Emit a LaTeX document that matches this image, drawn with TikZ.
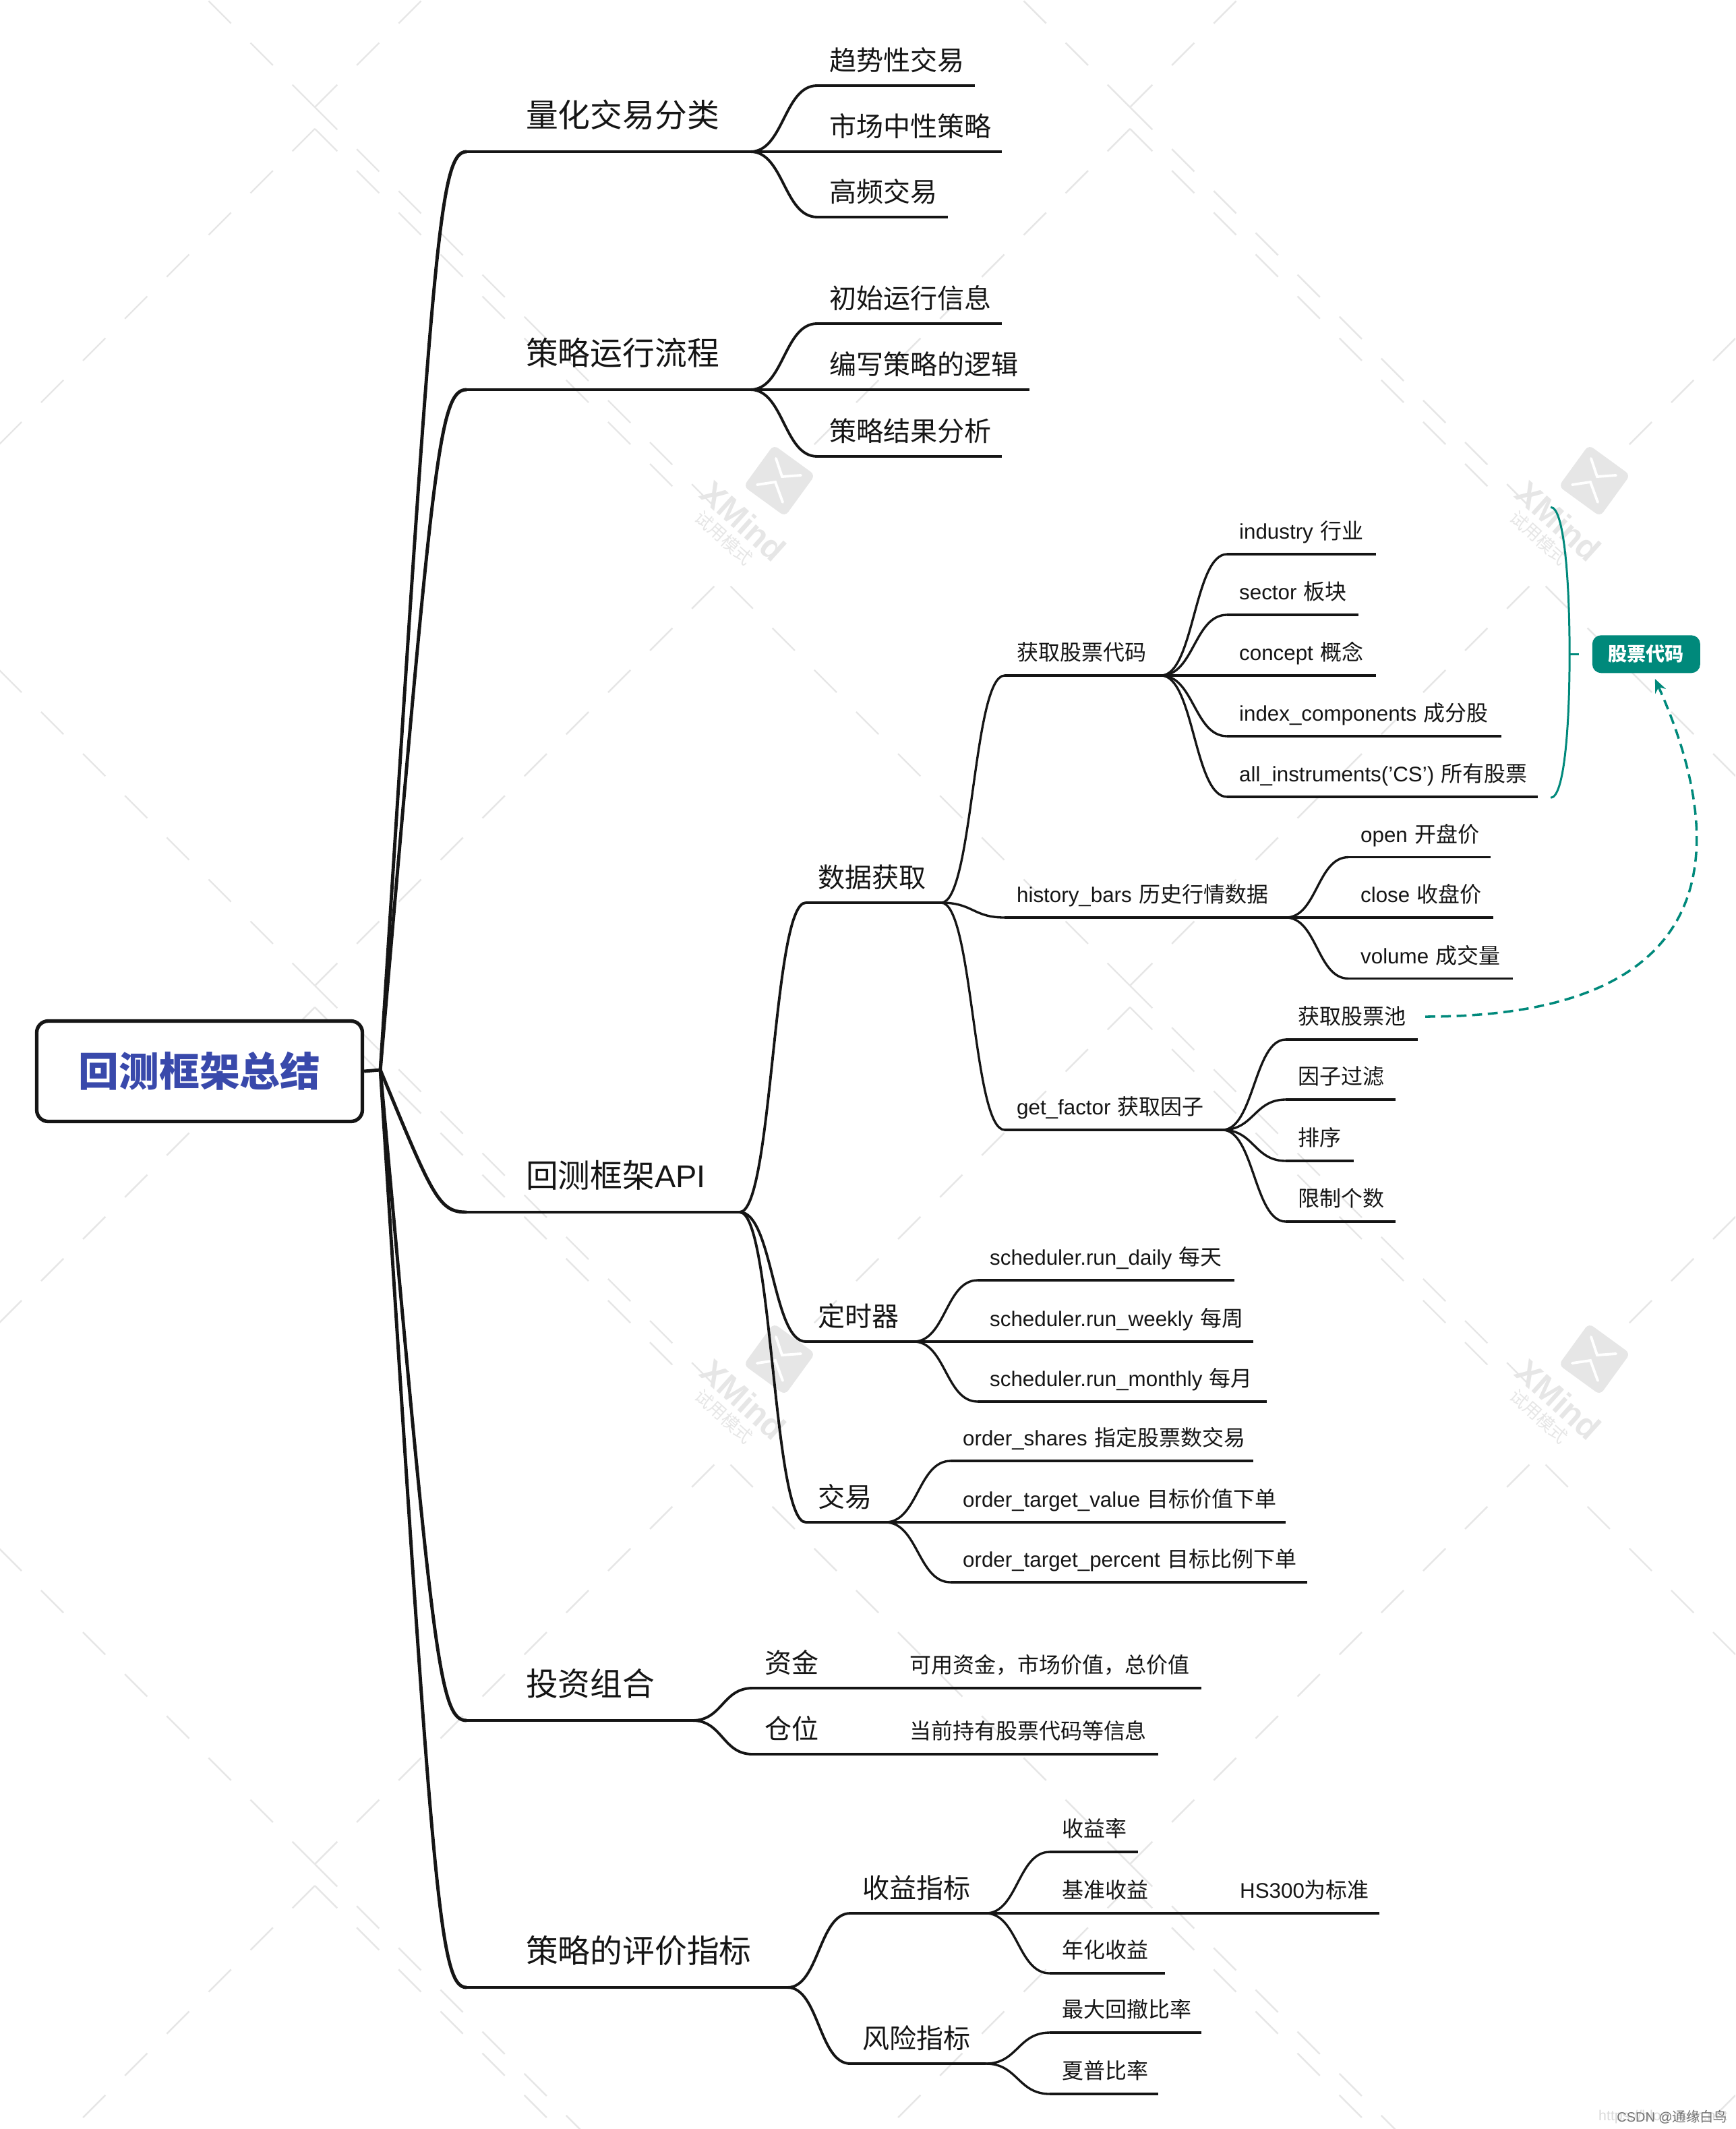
\documentclass[tikz,border=0pt]{standalone}
\usepackage{xcolor}
\usepackage{fontspec}
\setmainfont[Scale=.98]{Liberation Sans}
\newfontfamily\cjk{Noto Sans CJK SC}
\newcommand{\zh}[1]{{\cjk #1}}
\usepackage{tikz}
\usetikzlibrary{arrows.meta,calc,positioning}
\definecolor{inkline}{HTML}{151515}
\definecolor{rootblue}{HTML}{3949AB}
\definecolor{tealmark}{HTML}{00897B}
\definecolor{faintmark}{HTML}{E6E6E6}
\tikzset{>={Stealth[length=.2cm,width=.17cm]}}
\tikzset{main node/.style={draw=inkline,line width=1.5pt,rounded corners=.17cm,fill=white,minimum width=4.83cm,minimum height=1.49cm,inner sep=0pt,text=rootblue,font=\fontsize{17}{20}\selectfont\bfseries},
    topic/.style={inner ysep=0pt,outer sep=0pt,align=left,text=inkline,append after command={(\tikzlastnode.south west) edge[draw=inkline,line width=#1,-] (\tikzlastnode.south east)}},
    level one/.style={topic=1.4pt,minimum height=1.08cm,inner xsep=.88cm,text height=1.15em,text depth=.14em,font=\fontsize{13.6}{16}\selectfont},
    level two/.style={topic=1.1pt,minimum height=.8cm,inner xsep=.18cm,text height=1.135em,text depth=.14em,font=\fontsize{11.4}{14}\selectfont},
    level three/.style={topic=.95pt,minimum height=.68cm,inner xsep=.18cm,text height=.86em,text depth=.19em,font=\fontsize{9.1}{11}\selectfont},
    tag node/.style={fill=tealmark,rounded corners=.13cm,minimum width=1.6cm,minimum height=.56cm,inner sep=0pt,text=white,font=\fontsize{8}{10}\selectfont\bfseries},
    branch/.style={to path={.. controls ($(\tikztostart)!.5!(\tikztostart -| \tikztotarget)$) and ($(\tikztotarget)!.5!(\tikztotarget -| \tikztostart)$) .. (\tikztotarget)}},
    trunk/.style={to path={.. controls ($(\tikztostart)!.9!($(\tikztotarget)!.32!(\tikztotarget -| \tikztostart)$)$) and ($(\tikztotarget)!.32!(\tikztotarget -| \tikztostart)$) .. (\tikztotarget)}},
    faint line/.style={draw=faintmark,line width=.7pt,dash pattern=on 13.4pt off 11.6pt},
            }

\begin{document}
\begin{tikzpicture}[x=1cm,y=-1cm]

    \useasboundingbox (0,0) rectangle (25.74,31.58);

    % watermark
    \begin{scope}
    \clip (0,0) rectangle (25.74,31.58);
    \foreach \i in {0,1,2} \foreach \j in {0,1,2} {
        \begin{scope}[shift={(12.09*\i,13.03*\j)}]
        \draw[faint line] (4.67,1.59) -- +(6.2,6.2);
        \draw[faint line] (4.67,1.91) -- +(5.58,5.58);
        \draw[faint line] (4.67,1.59) -- +(-6.2,-6.2);
        \draw[faint line] (4.67,1.59) -- +(6.2,-6.2);
        \draw[faint line] (4.67,1.91) -- +(-4.96,4.96);
        \end{scope}
    }
    \foreach \i in {0,1} \foreach \j in {0,1} {
        \begin{scope}[shift={(12.09*\i,13.03*\j)}]
        \node[fill=faintmark,rounded corners=.08cm,minimum size=.76cm,inner sep=0pt,rotate=-36] (logo\i\j) at (11.56,7.13) {};
        \draw[white,line width=1.1pt,line cap=round] (11.51,6.80) -- (11.60,7.07) -- (11.88,7.05);
        \draw[white,line width=1.1pt,line cap=round] (11.23,7.19) -- (11.50,7.15) -- (11.61,7.45);
        \node[text=faintmark,rotate=-42,font=\fontsize{14.4}{18}\selectfont\bfseries] (mark\i\j) at (11.03,7.73) {XMind};
        \node[text=faintmark,rotate=-42,font=\fontsize{7.4}{9}\selectfont] (trial\i\j) at (10.74,7.98) {\zh{试用模式}};
        \end{scope}
    }
    \end{scope}

    \node[main node] (root) at (2.96,15.89) {\zh{回测框架总结}};
    \coordinate[above right = .02cm and .24cm of root.east] (fork);

    \node[level one,text width=2.45cm] (kinds) [above right = 13.62cm and 1.28cm of fork] {\zh{量化交易分类}};
    \node[level one,text width=2.45cm] (flow) [above right = 10.09cm and 1.28cm of fork] {\zh{策略运行流程}};
    \node[level one,text width=2.29cm] (api) [below right = 1.03cm and 1.28cm of fork] {\zh{回测框架}API};
    \node[level one,text width=1.59cm] (folio) [below right = 8.57cm and 1.28cm of fork] {\zh{投资组合}};
    \node[level one,text width=3cm] (metrics) [below right = 12.53cm and 1.28cm of fork] {\zh{策略的评价指标}};

    \node[level two,text width=1.98cm] (trend) [above right = .98cm and .99cm of kinds.south east] {\zh{趋势性交易}};
    \node[level two,text width=2.38cm] (neutral) [above right = 0cm and .99cm of kinds.south east] {\zh{市场中性策略}};
    \node[level two,text width=1.58cm] (hft) [below right = .17cm and .99cm of kinds.south east] {\zh{高频交易}};

    \node[level two,text width=2.38cm] (init) [above right = .98cm and .99cm of flow.south east] {\zh{初始运行信息}};
    \node[level two,text width=2.79cm] (logic) [above right = 0cm and .99cm of flow.south east] {\zh{编写策略的逻辑}};
    \node[level two,text width=2.38cm] (result) [below right = .19cm and .99cm of flow.south east] {\zh{策略结果分析}};

    \node[level two,text width=1.65cm] (fetch) [above right = 4.59cm and .98cm of api.south east] {\zh{数据获取}};
    \node[level two,text width=1.24cm] (timer) [below right = 1.12cm and .98cm of api.south east] {\zh{定时器}};
    \node[level two,text width=.82cm] (trade) [below right = 3.8cm and .98cm of api.south east] {\zh{交易}};

    \node[level three,text width=1.96cm] (codes) [above right = 3.37cm and .94cm of fetch.south east] {\zh{获取股票代码}};
    \node[level three,text width=3.81cm] (bars) [above right = -.22cm and .94cm of fetch.south east] {history\_bars~\zh{历史行情数据}};
    \node[level three,text width=2.87cm] (factor) [below right = 2.69cm and .94cm of fetch.south east] {get\_factor~\zh{获取因子}};

    \node[level three,text width=1.85cm] (industry) [above right = 1.8cm and .98cm of codes.south east] {industry~\zh{行业}};
    \node[level three,text width=1.59cm] (sector) [above right = .9cm and .98cm of codes.south east] {sector~\zh{板块}};
    \node[level three,text width=1.85cm] (concept) [above right = 0cm and .98cm of codes.south east] {concept~\zh{概念}};
    \node[level three,text width=3.71cm] (index) [below right = .22cm and .98cm of codes.south east] {index\_components~\zh{成分股}};
    \node[level three,text width=4.25cm] (allcs) [below right = 1.12cm and .98cm of codes.south east] {all\_instruments('CS')~\zh{所有股票}};

    \node[level three,text width=1.75cm] (open) [above right = .895cm and .93cm of bars.south east] {open~\zh{开盘价}};
    \node[level three,text width=1.79cm] (close) [above right = 0cm and .93cm of bars.south east] {close~\zh{收盘价}};
    \node[level three,text width=2.08cm] (volume) [below right = .225cm and .93cm of bars.south east] {volume~\zh{成交量}};

    \node[level three,text width=1.6cm] (pool) [above right = 1.34cm and .94cm of factor.south east] {\zh{获取股票池}};
    \node[level three,text width=1.27cm] (filter) [above right = .45cm and .94cm of factor.south east] {\zh{因子过滤}};
    \node[level three,text width=.65cm] (rank) [above right = -.46cm and .94cm of factor.south east] {\zh{排序}};
    \node[level three,text width=1.27cm] (limit) [below right = .68cm and .94cm of factor.south east] {\zh{限制个数}};

    \node[level three,text width=3.45cm] (daily) [above right = .91cm and .95cm of timer.south east] {scheduler.run\_daily~\zh{每天}};
    \node[level three,text width=3.73cm] (weekly) [above right = 0cm and .95cm of timer.south east] {scheduler.run\_weekly~\zh{每周}};
    \node[level three,text width=3.93cm] (monthly) [below right = .21cm and .95cm of timer.south east] {scheduler.run\_monthly~\zh{每月}};

    \node[level three,text width=4.13cm] (shares) [above right = .91cm and .97cm of trade.south east] {order\_shares~\zh{指定股票数交易}};
    \node[level three,text width=4.61cm] (value) [above right = 0cm and .97cm of trade.south east] {order\_target\_value~\zh{目标价值下单}};
    \node[level three,text width=4.93cm] (percent) [below right = .21cm and .97cm of trade.south east] {order\_target\_percent~\zh{目标比例下单}};

    \node[level two,text width=1.01cm] (funds) [above right = .48cm and .89cm of folio.south east] {\zh{资金}};
    \node[level two,text width=1.01cm] (position) [above right = -.5cm and .89cm of folio.south east] {\zh{仓位}};
    \node[level three,text width=4.15cm] (fundsinfo) [above right = 0cm and .78cm of funds.south east] {\zh{可用资金，市场价值，总价值}};
    \node[level three,text width=3.51cm] (posinfo) [above right = 0cm and .78cm of position.south east] {\zh{当前持有股票代码等信息}};

    \node[level two,text width=1.65cm] (gain) [above right = 1.1cm and .93cm of metrics.south east] {\zh{收益指标}};
    \node[level two,text width=1.65cm] (risk) [below right = .33cm and .93cm of metrics.south east] {\zh{风险指标}};

    \node[level three,text width=.95cm] (yield) [above right = .91cm and .95cm of gain.south east] {\zh{收益率}};
    \node[level three,text width=1.35cm] (bench) [above right = 0cm and .95cm of gain.south east] {\zh{基准收益}};
    \node[level three,text width=1.35cm] (annual) [below right = .21cm and .95cm of gain.south east] {\zh{年化收益}};
    \node[level three,text width=1.89cm] (hs) [above right = 0cm and .93cm of bench.south east] {HS300\zh{为标准}};

    \node[level three,text width=1.89cm] (drawdown) [above right = .46cm and .95cm of risk.south east] {\zh{最大回撤比率}};
    \node[level three,text width=1.25cm] (sharpe) [above right = -.45cm and .95cm of risk.south east] {\zh{夏普比率}};

    \path[draw=inkline,line width=1.4pt]
    (root.east) -- (fork)
    (fork) edge[trunk] (kinds.south west)
    (fork) edge[trunk] (flow.south west)
    (fork) edge[trunk] (api.south west)
    (fork) edge[trunk] (folio.south west)
    (fork) edge[trunk] (metrics.south west);

    \path[draw=inkline,line width=1.1pt]
    (kinds.south east) edge[branch] (trend.south west)
    (kinds.south east) edge[branch] (neutral.south west)
    (kinds.south east) edge[branch] (hft.south west)
    (flow.south east) edge[branch] (init.south west)
    (flow.south east) edge[branch] (logic.south west)
    (flow.south east) edge[branch] (result.south west)
    (api.south east) edge[branch] (fetch.south west)
    (api.south east) edge[branch] (timer.south west)
    (api.south east) edge[branch] (trade.south west)
    (folio.south east) edge[branch] (funds.south west)
    (folio.south east) edge[branch] (position.south west)
    (metrics.south east) edge[branch] (gain.south west)
    (metrics.south east) edge[branch] (risk.south west);

    \path[draw=inkline,line width=.95pt]
    (fetch.south east) edge[branch] (codes.south west)
    (fetch.south east) edge[branch] (bars.south west)
    (fetch.south east) edge[branch] (factor.south west)
    (codes.south east) edge[branch] (industry.south west)
    (codes.south east) edge[branch] (sector.south west)
    (codes.south east) edge[branch] (concept.south west)
    (codes.south east) edge[branch] (index.south west)
    (codes.south east) edge[branch] (allcs.south west)
    (bars.south east) edge[branch] (open.south west)
    (bars.south east) edge[branch] (close.south west)
    (bars.south east) edge[branch] (volume.south west)
    (factor.south east) edge[branch] (pool.south west)
    (factor.south east) edge[branch] (filter.south west)
    (factor.south east) edge[branch] (rank.south west)
    (factor.south east) edge[branch] (limit.south west)
    (timer.south east) edge[branch] (daily.south west)
    (timer.south east) edge[branch] (weekly.south west)
    (timer.south east) edge[branch] (monthly.south west)
    (trade.south east) edge[branch] (shares.south west)
    (trade.south east) edge[branch] (value.south west)
    (trade.south east) edge[branch] (percent.south west)
    (funds.south east) edge[branch] (fundsinfo.south west)
    (position.south east) edge[branch] (posinfo.south west)
    (gain.south east) edge[branch] (yield.south west)
    (gain.south east) edge[branch] (bench.south west)
    (gain.south east) edge[branch] (annual.south west)
    (bench.south east) edge[branch] (hs.south west)
    (risk.south east) edge[branch] (drawdown.south west)
    (risk.south east) edge[branch] (sharpe.south west);

    % summary tag and its bracket
    \node[tag node] (tag) [above right = .03cm and 3.2cm of concept.south east] {\zh{股票代码}};
    \coordinate[left = .33cm of tag.west] (brace mid);
    \coordinate[left = .19cm of tag.west] (brace stub);
    \coordinate[above left = 2.18cm and .61cm of tag.west] (brace top);
    \coordinate[below left = 2.13cm and .61cm of tag.west] (brace bot);
    \coordinate[below right = .08cm and .13cm of tag.south] (pool tip);

    \draw[tealmark,line width=.85pt] (brace top) .. controls +(.2,0) and +(0,-1.08) .. (brace mid) .. controls +(0,1.08) and +(.2,0) .. (brace bot);
    \draw[tealmark,line width=.85pt] (brace mid) -- (brace stub);

    \draw[tealmark,line width=1pt,dash pattern=on 4.2pt off 2.4pt,->,shorten <=.11cm] (pool.east) .. controls +(4.8,0) and +(1,2.23) .. (pool tip);

    \node[text=black!15,anchor=east,inner sep=0pt,font=\fontsize{6.2}{8}\selectfont] (urlmark) at (25.63,31.4) {https://blog.csdn.net};
    \node[text=black!55,anchor=east,inner sep=0pt,font=\fontsize{5.8}{8}\selectfont] (csdnmark) at (25.63,31.4) {CSDN @\zh{通缘白鸟}};

\end{tikzpicture}
\end{document}
